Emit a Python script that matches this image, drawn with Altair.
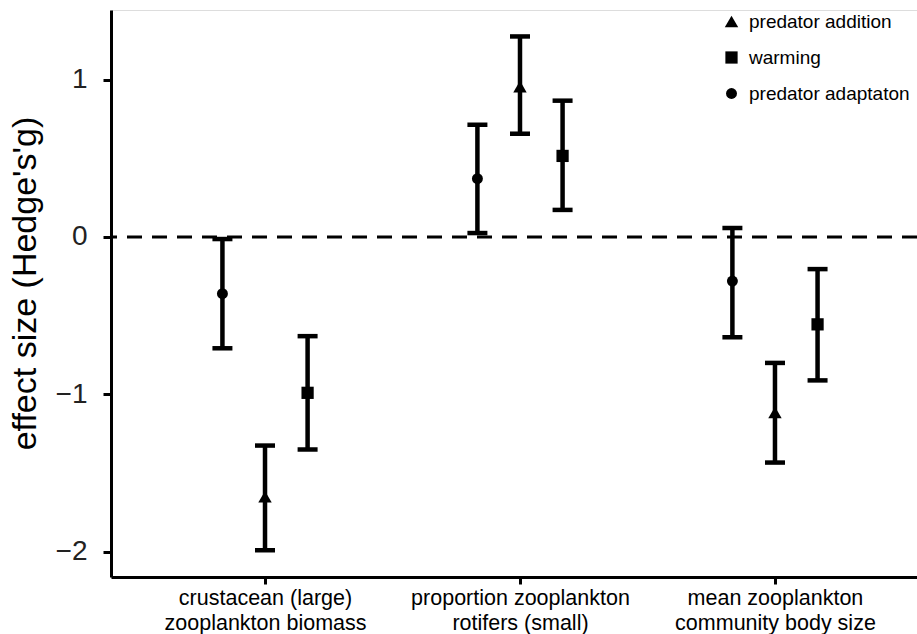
import altair as alt
import pandas as pd

# ---- data ----
cat_pos = [1, 2, 3]
cat_labels = [
    ["crustacean (large)", "zooplankton biomass"],
    ["proportion zooplankton", "rotifers (small)"],
    ["mean zooplankton", "community body size"],
]
treatments = ["predator addition", "warming", "predator adaptaton"]
treat_offset = [0.0, 0.167, -0.167]
treat_shapes = ["triangle-up", "square", "circle"]
treat_sizes = [180, 120, 100]

# per treatment: values for the 3 categories
mean_vals = {
    "predator addition": [-1.65, 0.955, -1.115],
    "warming": [-0.99, 0.515, -0.555],
    "predator adaptaton": [-0.36, 0.37, -0.28],
}
lower_vals = {
    "predator addition": [-1.99, 0.656, -1.433],
    "warming": [-1.35, 0.172, -0.911],
    "predator adaptaton": [-0.707, 0.025, -0.637],
}
upper_vals = {
    "predator addition": [-1.325, 1.274, -0.80],
    "warming": [-0.63, 0.866, -0.204],
    "predator adaptaton": [-0.013, 0.713, 0.057],
}

rows = []
for t, off in zip(treatments, treat_offset):
    for i, c in enumerate(cat_pos):
        rows.append({
            "treatment": t,
            "x": c + off,
            "mean": mean_vals[t][i],
            "lo": lower_vals[t][i],
            "hi": upper_vals[t][i],
        })
df = pd.DataFrame(rows)

label_expr = (
    "datum.value == 1 ? " + str(cat_labels[0]) +
    " : datum.value == 2 ? " + str(cat_labels[1]) +
    " : " + str(cat_labels[2])
)

FONT = "Liberation Sans"

xscale = alt.Scale(domain=[0.396, 3.557], nice=False, zero=False)
yscale = alt.Scale(domain=[-2.16, 1.442], nice=False, zero=False)

xaxis = alt.Axis(
    values=cat_pos, labelExpr=label_expr, title=None, grid=False,
    domainColor="black", domainWidth=3, tickColor="black", tickWidth=3,
    tickSize=7, labelFontSize=21.5, labelColor="black", labelFont=FONT,
    labelPadding=3, labelLineHeight=25, labelAlign="center", labelLimit=500,
)
yaxis = alt.Axis(
    values=[-2, -1, 0, 1], format="d", title="effect size (Hedge's'g)",
    grid=False, domainColor="black", domainWidth=3, tickColor="black",
    tickWidth=3, tickSize=8, labelFontSize=28, labelColor="#222222",
    labelFont=FONT, labelPadding=16, titleFont=FONT, titleFontSize=34,
    titleFontWeight="normal", titleColor="black", titlePadding=13,
    titleY=273,
    labelExpr="replace(datum.label, '-', '\u2212')",
)

base = alt.Chart(df)

zero_line = alt.Chart(pd.DataFrame({"y": [0]})).mark_rule(
    color="black", strokeWidth=3, strokeDash=[15, 10]
).encode(y=alt.Y("y:Q", scale=yscale, axis=yaxis))

bars = base.mark_rule(color="black", strokeWidth=4.5).encode(
    x=alt.X("x:Q", scale=xscale, axis=xaxis),
    y=alt.Y("lo:Q", scale=yscale, axis=yaxis),
    y2="hi:Q",
)
cap_lo = base.mark_tick(color="black", opacity=1, orient="horizontal", size=20, thickness=4.5).encode(
    x=alt.X("x:Q", scale=xscale, axis=xaxis),
    y=alt.Y("lo:Q", scale=yscale, axis=yaxis),
)
cap_hi = base.mark_tick(color="black", opacity=1, orient="horizontal", size=20, thickness=4.5).encode(
    x=alt.X("x:Q", scale=xscale, axis=xaxis),
    y=alt.Y("hi:Q", scale=yscale, axis=yaxis),
)
legend = alt.Legend(
    title=None, orient="none", legendX=611, legendY=2,
    symbolFillColor="black", symbolStrokeColor="black", symbolOpacity=1,
    labelFontSize=19, labelFont=FONT, labelColor="black",
    rowPadding=16, labelOffset=8, labelLimit=400,
)
points = base.mark_point(filled=True, color="black", opacity=1).encode(
    x=alt.X("x:Q", scale=xscale, axis=xaxis),
    y=alt.Y("mean:Q", scale=yscale, axis=yaxis),
    shape=alt.Shape(
        "treatment:N",
        scale=alt.Scale(domain=treatments, range=treat_shapes),
        legend=legend,
    ),
    size=alt.Size(
        "treatment:N",
        scale=alt.Scale(domain=treatments, range=treat_sizes),
        legend=legend,
    ),
)

chart = alt.layer(zero_line, bars, cap_lo, cap_hi, points).properties(
    width=806, height=567,
    autosize=alt.AutoSizeParams(type="none"),
    padding={"left": 111, "top": 10, "right": 0, "bottom": 57},
).configure_view(stroke=None).configure(background="white")

chart.save("out.html", embed_options={"renderer": "svg", "actions": False})
